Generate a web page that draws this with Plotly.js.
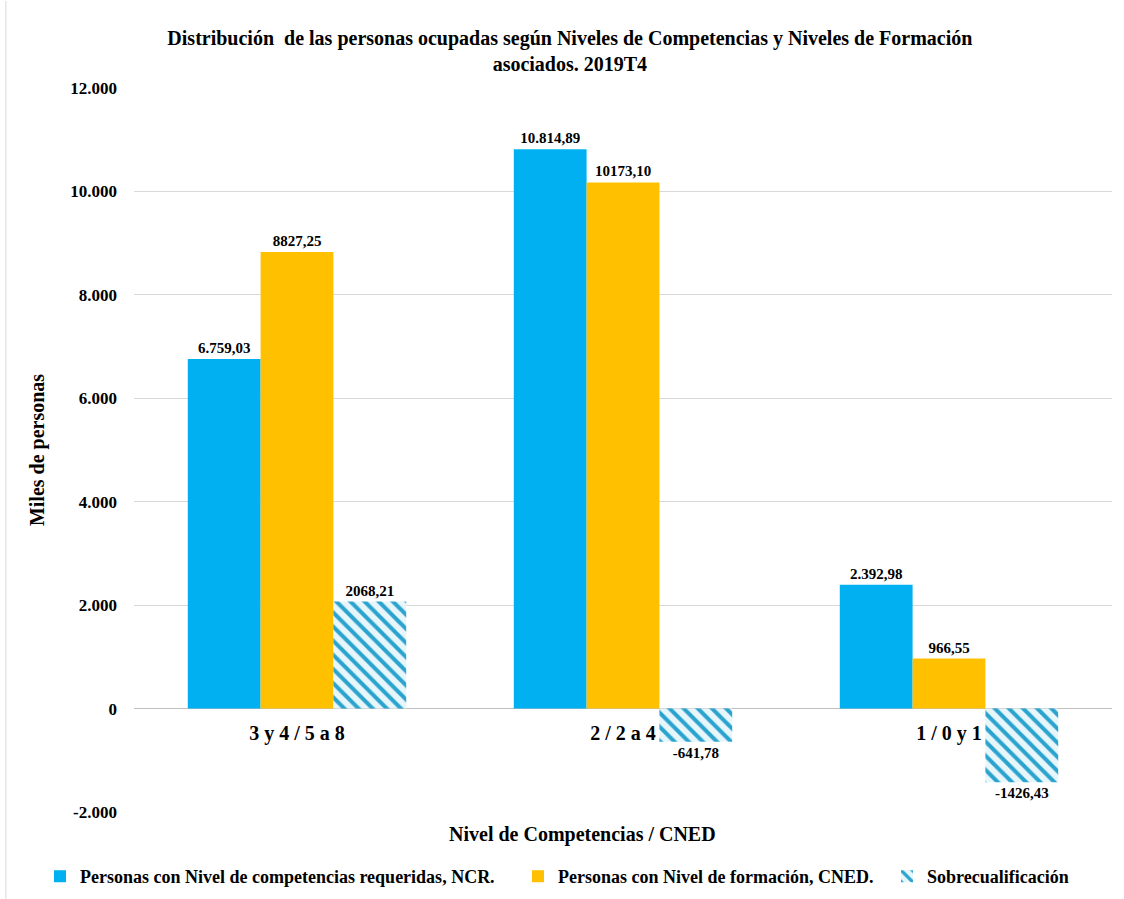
<!DOCTYPE html>
<html>
<head>
<meta charset="utf-8">
<script src="https://cdn.plot.ly/plotly-3.0.1.min.js"></script>
<style>html,body{margin:0;padding:0;background:#fff;}#chart{width:1124px;height:899px;}</style>
</head>
<body>
<div id="chart"></div>
<script>
const categories = ["3 y 4 / 5 a 8", "2 / 2 a 4", "1 / 0 y 1"];
const ncrValues = [6759.03, 10814.89, 2392.98];
const ncrLabels = ["6.759,03", "10.814,89", "2.392,98"];
const cnedValues = [8827.25, 10173.10, 966.55];
const cnedLabels = ["8827,25", "10173,10", "966,55"];
const sobreValues = [2068.21, -641.78, -1426.43];
const sobreLabels = ["2068,21", "-641,78", "-1426,43"];
const seriesNames = ["Personas con Nivel de competencias requeridas, NCR.", "Personas con Nivel de formación, CNED.", "Sobrecualificación"];
const yTickVals = [-2000, 0, 2000, 4000, 6000, 8000, 10000, 12000];
const yTickText = ["-2.000", "0", "2.000", "4.000", "6.000", "8.000", "10.000", "12.000"];

const F = "Liberation Serif";
const labelFont = {family: F, size: 15, color: "#000", weight: "bold"};

const traces = [
  {type: "bar", name: seriesNames[0], x: categories, y: ncrValues, text: ncrLabels,
   textposition: "outside", textfont: labelFont, cliponaxis: false, legend: "legend",
   marker: {color: "#00B0F0"}, hoverinfo: "none"},
  {type: "bar", name: seriesNames[1], x: categories, y: cnedValues, text: cnedLabels,
   textposition: "outside", textfont: labelFont, cliponaxis: false, legend: "legend2",
   marker: {color: "#FFC000"}, hoverinfo: "none"},
  {type: "bar", name: seriesNames[2], x: categories, y: sobreValues, text: sobreLabels,
   textposition: "outside", textfont: labelFont, cliponaxis: false, legend: "legend3",
   marker: {color: "#E6F6FB", pattern: {shape: "\\", fgcolor: "#2AA3CF", bgcolor: "#E6F6FB", size: 10, solidity: 0.4}},
   hoverinfo: "none"}
];

const legFont = {family: F, size: 18, color: "#000", weight: "bold"};
function leg(px) {
  return {orientation: "h", x: px / 1124, xanchor: "left", xref: "container", yref: "container",
          y: 0.025, yanchor: "middle", font: legFont, itemwidth: 30, bgcolor: "rgba(0,0,0,0)"};
}

const yMin = -2000, yMax = 12000;
const layout = {
  width: 1124, height: 899,
  margin: {l: 134, r: 12, t: 88, b: 87},
  paper_bgcolor: "#fff", plot_bgcolor: "#fff",
  font: {family: F, color: "#000"},
  title: {text: "<b>Distribución  de las personas ocupadas según Niveles de Competencias y Niveles de Formación<br>asociados. 2019T4</b>",
          font: {family: F, size: 20, color: "#000"}, x: 0.507, xanchor: "center", y: 0.95, yanchor: "top"},
  barmode: "group", bargap: 0.33, bargroupgap: 0,
  showlegend: true,
  legend: leg(40), legend2: leg(518), legend3: leg(887),
  xaxis: {type: "category", anchor: "free", position: (0 - yMin) / (yMax - yMin),
          showline: false, ticks: "", showgrid: false, ticklabelstandoff: 10,
          tickfont: {family: F, size: 20, color: "#000", weight: "bold"}},
  yaxis: {range: [yMin, yMax], tickvals: yTickVals, ticktext: yTickText,
          showgrid: true, gridcolor: "#D9D9D9", gridwidth: 1,
          zeroline: true, zerolinecolor: "#BFBFBF", zerolinewidth: 1,
          showline: false, ticks: "", ticklabelstandoff: 16,
          tickfont: {family: F, size: 17, color: "#000", weight: "bold"},
          title: {text: "<b>Miles de personas</b>", font: {family: F, size: 20, color: "#000"}, standoff: 20}},
  annotations: [
    {text: "<b>Nivel de Competencias / CNED</b>", xref: "paper", yref: "paper", x: 0.459, y: -0.012,
     xanchor: "center", yanchor: "top", showarrow: false, font: {family: F, size: 20, color: "#000"}}
  ],
  shapes: [
    {type: "line", xref: "paper", yref: "paper", x0: -0.131, x1: -0.131, y0: -0.12, y1: 1.12,
     line: {color: "#D9D9D9", width: 1}}
  ]
};

Plotly.newPlot("chart", traces, layout, {displayModeBar: false, staticPlot: true});
</script>
</body>
</html>
